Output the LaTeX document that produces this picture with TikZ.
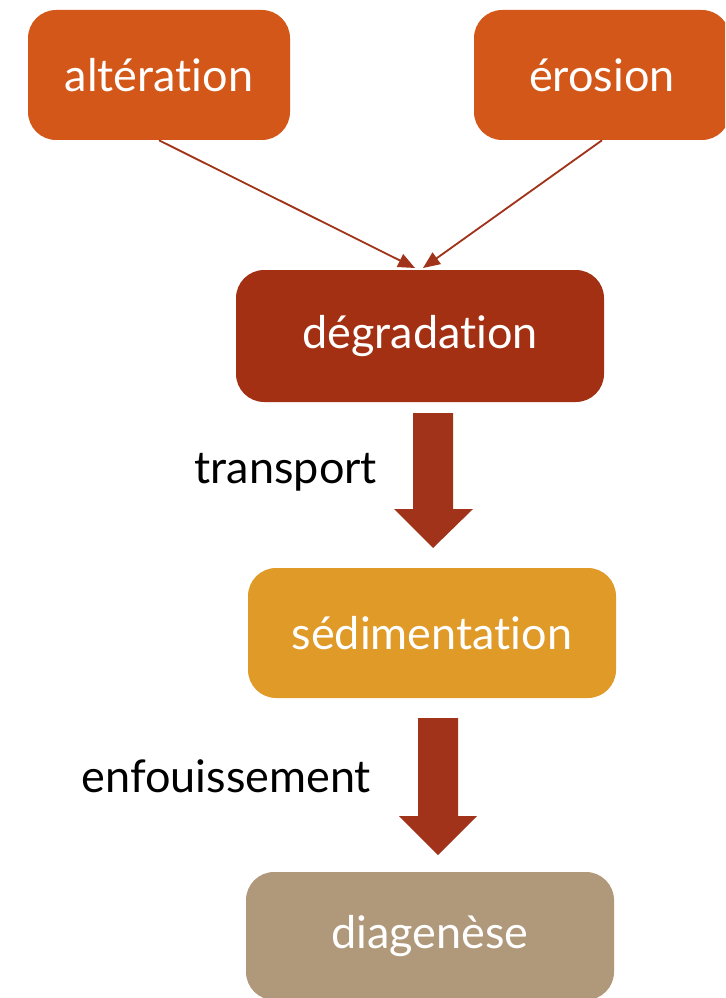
\documentclass[tikz,border=0pt]{standalone}
\usepackage{fontspec}
\setmainfont{Lato}[Ligatures={NoCommon,NoContextual}]
\usetikzlibrary{arrows.meta}

\definecolor{rouille}{HTML}{D4571A}
\definecolor{brique}{HTML}{A33012}
\definecolor{ocre}{HTML}{E09A28}
\definecolor{sable}{HTML}{B0987A}
\definecolor{fleche}{HTML}{A0331A}

\tikzset{
  etape/.style={rounded corners=20, text=white, inner sep=0pt,
    font=\fontsize{32}{38}\selectfont, minimum height=130*0.025cm},
  lien/.style={draw=fleche, line width=1.3pt, -{Triangle[length=12pt,width=10pt]}},
  bloc/.style={fill=fleche, draw=none},
  legende/.style={font=\fontsize{32}{38}\selectfont, anchor=east}
}

\begin{document}
\begin{tikzpicture}[x=0.025cm, y=-0.025cm]
  \clip (0,0) rectangle (725,998);
  \fill[white] (0,0) rectangle (725,998);
  % boxes
  \path (159,75) node[etape, fill=rouille, minimum width=262*0.025cm] (alteration) {altération};
  \path (602,75) node[etape, fill=rouille, minimum width=256*0.025cm] (erosion) {érosion};
  \path (420,336) node[etape, fill=brique, minimum width=368*0.025cm, minimum height=132*0.025cm] (degradation) {dégradation};
  \path (432,633) node[etape, fill=ocre, minimum width=368*0.025cm] (sedimentation) {sédimentation};
  \path (430,936) node[etape, fill=sable, minimum width=368*0.025cm, minimum height=128*0.025cm] (diagenese) {diagenèse};
  % thin arrows
  \coordinate (ga) at (415,268);
  \coordinate (gb) at (423,268);
  \draw[lien] (alteration.south) -- (ga);
  \draw[lien] (erosion.south) -- (gb);
  % block arrows
  \fill[bloc] (413,413) -- (453,413) -- (453,509) -- (473,509) -- (433,548)
    -- (394,509) -- (413,509) -- cycle;
  \fill[bloc] (418,718) -- (458,718) -- (458,816) -- (477,816) -- (438,855)
    -- (399,816) -- (418,816) -- cycle;
  \path (382,472) node[legende] (transport) {transport};
  \path (376,776) node[legende] (enfouissement) {enfouissement};
\end{tikzpicture}
\end{document}
